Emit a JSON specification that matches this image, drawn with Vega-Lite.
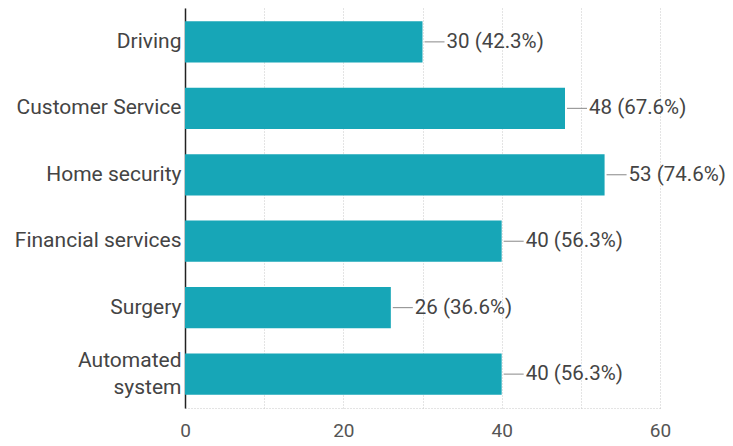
{
  "$schema": "https://vega.github.io/schema/vega-lite/v6.json",
  "width": 475,
  "height": 400,
  "padding": {"left": 14, "top": 8, "right": 0, "bottom": 0},
  "background": "white",
  "config": {"view": {"stroke": null}, "font": "Roboto"},
  "data": {"values": [
    {"category": "Driving", "count": 30, "label": "30 (42.3%)"},
    {"category": "Customer Service", "count": 48, "label": "48 (67.6%)"},
    {"category": "Home security", "count": 53, "label": "53 (74.6%)"},
    {"category": "Financial services", "count": 40, "label": "40 (56.3%)"},
    {"category": "Surgery", "count": 26, "label": "26 (36.6%)"},
    {"category": "Automated system", "count": 40, "label": "40 (56.3%)"}
  ]},
  "encoding": {
    "y": {
      "field": "category", "type": "nominal", "sort": null,
      "scale": {"paddingInner": 0.38, "paddingOuter": 0.2},
      "axis": {
        "title": null, "ticks": false, "domainColor": "#222", "domainWidth": 1.5,
        "labelFontSize": 21, "labelColor": "#444", "labelPadding": 4, "labelLimit": 300,
        "labelExpr": "datum.label == 'Automated system' ? ['Automated', 'system'] : datum.label",
        "labelLineHeight": 27,
        "labelOffset": {"condition": {"test": "datum.value == 'Automated system'", "value": -13}, "value": 0}
      }
    }
  },
  "layer": [
    {
      "mark": {"type": "bar", "color": "#17a6b7"},
      "encoding": {
        "x": {
          "field": "count", "type": "quantitative",
          "scale": {"domain": [0, 60], "nice": false},
          "axis": {
            "title": null, "values": [0, 10, 20, 30, 40, 50, 60],
            "labelExpr": "datum.value % 20 == 0 ? datum.label : ''",
            "labelFlush": false,
            "ticks": false, "labelFontSize": 19, "labelColor": "#555", "labelPadding": 13,
            "grid": true, "gridDash": [1, 2], "gridColor": "#c8c8c8",
            "domainDash": [1, 2], "domainColor": "#c8c8c8"
          }
        }
      }
    },
    {
      "mark": {"type": "rule", "color": "#888", "strokeWidth": 1, "xOffset": 2, "x2Offset": 22},
      "encoding": {"x": {"field": "count", "type": "quantitative"}, "x2": {"field": "count"}}
    },
    {
      "mark": {"type": "text", "align": "left", "dx": 24, "fontSize": 20.5, "color": "#444"},
      "encoding": {"x": {"field": "count", "type": "quantitative"}, "text": {"field": "label"}}
    }
  ]
}
